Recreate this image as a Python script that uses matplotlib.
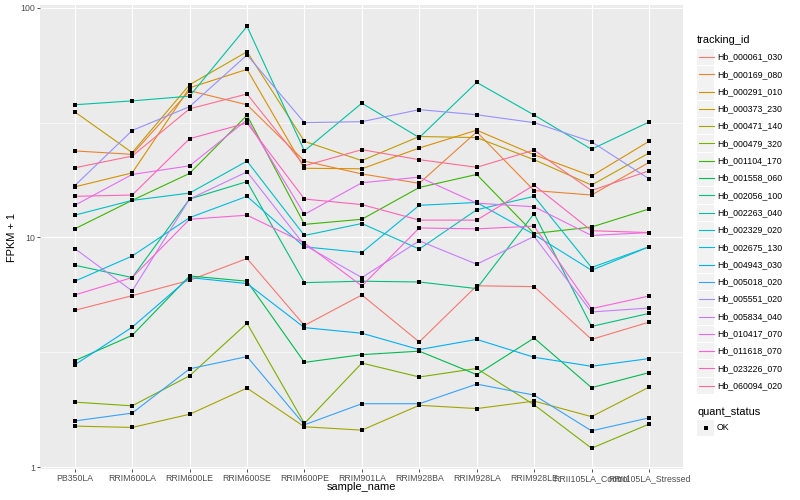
import numpy as np
import matplotlib
matplotlib.use("Agg")
import matplotlib.pyplot as plt
from matplotlib.patches import Rectangle
from matplotlib.lines import Line2D
from matplotlib.ticker import FixedLocator, NullFormatter

plt.rcParams["font.family"] = ["Liberation Sans", "DejaVu Sans"]

# * - - - Data (FPKM + 1), one list per tracking_id
samples = ["PB350LA", "RRIM600LA", "RRIM600LE", "RRIM600SE", "RRIM600PE", "RRIM901LA",
           "RRIM928BA", "RRIM928LA", "RRIM928LE", "RRII105LA_Control", "RRII105LA_Stressed"]

hb_000061_030 = [4.82, 5.58, 6.51, 8.10, 4.14, 5.62, 3.51, 6.16, 6.11, 3.60, 4.28]
hb_000169_080 = [23.8, 23.0, 43.5, 37.8, 21.5, 18.9, 17.2, 28.8, 16.0, 15.3, 21.2]
hb_000291_010 = [16.6, 19.1, 44.8, 53.9, 20.0, 19.9, 24.5, 29.3, 22.9, 18.5, 26.2]
hb_000373_230 = [35.2, 23.4, 46.2, 64.3, 26.2, 21.6, 27.5, 27.2, 21.8, 16.9, 23.3]
hb_000471_140 = [1.51, 1.49, 1.70, 2.21, 1.50, 1.45, 1.86, 1.80, 1.94, 1.66, 2.23]
hb_000479_320 = [1.92, 1.85, 2.50, 4.23, 1.55, 2.84, 2.47, 2.69, 1.87, 1.21, 1.54]
hb_001104_170 = [10.9, 14.5, 19.0, 34.0, 11.4, 12.0, 16.5, 18.8, 10.4, 11.1, 13.3]
hb_001558_060 = [2.91, 3.75, 6.80, 6.45, 2.86, 3.09, 3.20, 2.53, 3.65, 2.22, 2.58]
hb_002056_100 = [7.57, 6.69, 14.7, 17.5, 6.36, 6.45, 6.40, 5.99, 12.7, 4.10, 4.67]
hb_002263_040 = [37.8, 39.3, 41.2, 82.9, 23.8, 38.4, 27.2, 47.3, 34.1, 24.2, 31.8]
hb_002329_020 = [12.5, 14.5, 15.6, 21.5, 10.2, 11.5, 8.9, 13.2, 15.1, 7.4, 9.1]
hb_002675_130 = [6.45, 8.3, 12.2, 15.1, 9.1, 8.6, 13.8, 14.2, 10.3, 7.2, 9.1]
hb_004943_030 = [2.79, 4.07, 6.69, 6.30, 4.05, 3.83, 3.25, 3.60, 3.01, 2.75, 2.97]
hb_005018_020 = [1.59, 1.72, 2.68, 3.03, 1.53, 1.89, 1.89, 2.30, 2.06, 1.44, 1.64]
hb_005551_020 = [16.8, 29.2, 37.1, 62.3, 31.6, 31.9, 36.0, 34.2, 31.6, 26.1, 18.0]
hb_005834_040 = [8.95, 5.85, 14.7, 19.3, 9.26, 6.69, 9.67, 7.65, 10.1, 4.74, 4.93]
hb_010417_070 = [13.8, 18.8, 20.5, 32.5, 12.6, 17.3, 18.3, 14.1, 13.6, 10.2, 10.5]
hb_011618_070 = [5.62, 6.69, 12.0, 12.5, 9.47, 6.15, 11.0, 10.9, 11.2, 4.90, 5.56]
hb_023226_070 = [15.1, 15.3, 26.9, 31.5, 14.7, 13.9, 11.9, 11.9, 16.9, 10.7, 10.5]
hb_060094_020 = [20.1, 22.6, 36.3, 42.1, 20.5, 24.1, 21.8, 20.2, 24.0, 16.0, 19.5]

tracking_ids = ["Hb_000061_030", "Hb_000169_080", "Hb_000291_010", "Hb_000373_230",
                "Hb_000471_140", "Hb_000479_320", "Hb_001104_170", "Hb_001558_060",
                "Hb_002056_100", "Hb_002263_040", "Hb_002329_020", "Hb_002675_130",
                "Hb_004943_030", "Hb_005018_020", "Hb_005551_020", "Hb_005834_040",
                "Hb_010417_070", "Hb_011618_070", "Hb_023226_070", "Hb_060094_020"]
series = [hb_000061_030, hb_000169_080, hb_000291_010, hb_000373_230, hb_000471_140,
          hb_000479_320, hb_001104_170, hb_001558_060, hb_002056_100, hb_002263_040,
          hb_002329_020, hb_002675_130, hb_004943_030, hb_005018_020, hb_005551_020,
          hb_005834_040, hb_010417_070, hb_011618_070, hb_023226_070, hb_060094_020]

# ggplot2 default hue palette for 20 levels
colors = ["#F8766D", "#EA8331", "#D89000", "#C09B00", "#A3A500", "#7CAE00", "#39B600",
          "#00BB4E", "#00BF7D", "#00C1A3", "#00BFC4", "#00BAE0", "#00B0F6", "#35A2FF",
          "#9590FF", "#C77CFF", "#E76BF3", "#FA62DB", "#FF62BC", "#FF6C91"]

W, H = 800, 500

# * - - - Figure and panel
fig = plt.figure(figsize=(W / 100, H / 100), dpi=100)
ax = fig.add_axes([40.3 / W, 1 - 469.3 / H, (683.4 - 40.3) / W, (469.3 - 5.3) / H])
ax.set_facecolor("#EBEBEB")
for s in ax.spines.values():
    s.set_visible(False)

x = np.arange(len(samples))
for vals, col in zip(series, colors):
    ax.plot(x, vals, color=col, lw=0.8, zorder=2)
for vals in series:
    ax.plot(x, vals, ls="none", marker="s", ms=2.6, color="black", mew=0, zorder=3)

# * - - - Scales (log10 with 5% expansion like ggplot)
ax.set_yscale("log")
allv = np.concatenate([np.asarray(v) for v in series])
lmin, lmax = np.log10(allv.min()), np.log10(allv.max())
pad = 0.05 * (lmax - lmin)
ax.set_ylim(10 ** (lmin - pad), 10 ** (lmax + pad))
ax.set_xlim(-0.6, len(samples) - 0.4)

ax.yaxis.set_major_locator(FixedLocator([1, 10, 100]))
ax.set_yticklabels(["1", "10", "100"])
ax.yaxis.set_minor_locator(FixedLocator([10 ** 0.5, 10 ** 1.5]))
ax.yaxis.set_minor_formatter(NullFormatter())
ax.set_xticks(x)
ax.set_xticklabels(samples)

ax.tick_params(which="major", length=2, width=0.6, color="#333333",
               labelsize=6.3, labelcolor="#4D4D4D", pad=1.6)
ax.tick_params(which="minor", length=0)
ax.grid(which="major", color="white", lw=0.8)
ax.grid(which="minor", axis="y", color="white", lw=0.4)
ax.set_axisbelow(True)

# * - - - Axis titles
fig.text(361.9 / W, 1 - 487 / H, "sample_name", fontsize=7.9, ha="center", va="center")
fig.text(12 / W, 1 - 237.3 / H, "FPKM + 1", fontsize=7.9, ha="center", va="center",
         rotation=90)

# * - - - Legend: tracking_id
fig.text(697 / W, 1 - 40 / H, "tracking_id", fontsize=7.9, ha="left", va="center")
for i, (name, col) in enumerate(zip(tracking_ids, colors)):
    cy = 57 + 17.3 * i
    fig.add_artist(Rectangle((697 / W, 1 - (cy + 8.2) / H), 17 / W, 16.4 / H,
                             transform=fig.transFigure, fc="#F2F2F2", ec="none"))
    fig.add_artist(Line2D([698.5 / W, 713.5 / W], [1 - cy / H, 1 - cy / H],
                          transform=fig.transFigure, color=col, lw=0.8))
    fig.text(717 / W, 1 - cy / H, name, fontsize=6.3, ha="left", va="center")

# * - - - Legend: quant_status
fig.text(697 / W, 1 - 412 / H, "quant_status", fontsize=7.9, ha="left", va="center")
fig.add_artist(Rectangle((697 / W, 1 - (428 + 8.2) / H), 17 / W, 16.4 / H,
                         transform=fig.transFigure, fc="#F2F2F2", ec="none"))
fig.add_artist(Line2D([705.5 / W], [1 - 428 / H], transform=fig.transFigure,
                      ls="none", marker="s", ms=2.6, mew=0, color="black"))
fig.text(717 / W, 1 - 428 / H, "OK", fontsize=6.3, ha="left", va="center")

fig.savefig("out.png", dpi=100)
